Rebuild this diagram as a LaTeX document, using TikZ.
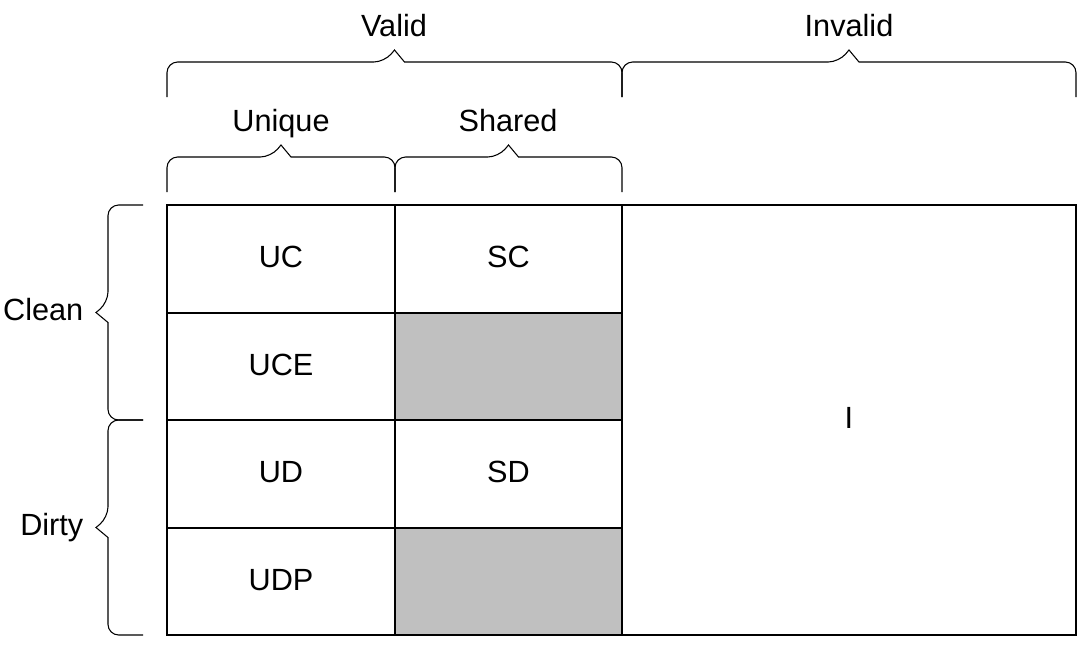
\documentclass[tikz,border=0pt]{standalone}
\usepackage{fontspec}
\setmainfont{Liberation Sans}
\usetikzlibrary{positioning}
\definecolor{cellgray}{HTML}{C0C0C0}
\tikzset{
	% Define cell style
	cell/.style={draw, thick, outer sep=0pt, inner sep=0pt},
	% Define label style
	lbl/.style={font=\fontsize{23}{27}\selectfont, text height=17pt, text depth=4pt},
	brc/.style={thick, rounded corners=8}
}
% horizontal brace: left x, right x, foot y
\newcommand{\hbrc}[3]{
	\draw[brc] (#1,#3) -- (#1,#3-35) -- ({(#1+#2)/2-10},#3-35) [sharp corners]-- ({(#1+#2)/2},#3-47) -- ({(#1+#2)/2+10},#3-35) [rounded corners=8]-- (#2,#3-35) -- (#2,#3);
}
% vertical brace: top y, bottom y, foot x
\newcommand{\vbrc}[3]{
	\draw[brc] (#3,#1) -- (#3-35,#1) -- (#3-35,{(#1+#2)/2-10}) [sharp corners]-- (#3-47,{(#1+#2)/2}) -- (#3-35,{(#1+#2)/2+10}) [rounded corners=8]-- (#3-35,#2) -- (#3,#2);
}
\begin{document}
\begin{tikzpicture}[x=0.75pt, y=-0.75pt]
\useasboundingbox (0,0) rectangle (1079,644);

% cells
\node[cell, lbl, minimum width=228*0.75pt, minimum height=108*0.75pt, anchor=north west] (UC) at (167,205) {UC};
\node[cell, lbl, minimum width=227*0.75pt, minimum height=108*0.75pt, right=0pt of UC] (SC) {SC};
\node[cell, lbl, minimum width=228*0.75pt, minimum height=107*0.75pt, below=0pt of UC] (UCE) {UCE};
\node[cell, fill=cellgray, minimum width=227*0.75pt, minimum height=107*0.75pt, below=0pt of SC] (gray1) {};
\node[cell, lbl, minimum width=228*0.75pt, minimum height=108*0.75pt, below=0pt of UCE] (UD) {UD};
\node[cell, lbl, minimum width=227*0.75pt, minimum height=108*0.75pt, below=0pt of gray1] (SD) {SD};
\node[cell, lbl, minimum width=228*0.75pt, minimum height=107*0.75pt, below=0pt of UD] (UDP) {UDP};
\node[cell, fill=cellgray, minimum width=227*0.75pt, minimum height=107*0.75pt, below=0pt of SD] (gray2) {};
\node[cell, lbl, minimum width=454*0.75pt, minimum height=430*0.75pt, anchor=north west] (I) at (622,205) {I};

% braces
\hbrc{167}{622}{97}
\hbrc{622}{1076}{97}
\hbrc{167}{395}{192}
\hbrc{395}{622}{192}
\vbrc{205}{420}{143}
\vbrc{420}{635}{143}

% labels
\node[lbl] (valid) at (394,28) {Valid};
\node[lbl] (invalid) at (849,28) {Invalid};
\node[lbl] (unique) at (281,123) {Unique};
\node[lbl] (shared) at (508,123) {Shared};
\node[lbl, anchor=east] (clean) at (88,312) {Clean};
\node[lbl, anchor=east] (dirty) at (88,527) {Dirty};
\end{tikzpicture}
\end{document}
